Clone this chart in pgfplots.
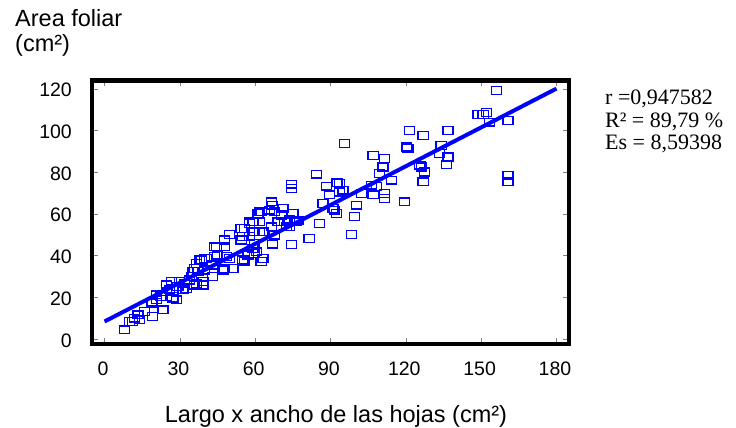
\documentclass[border=0pt]{standalone}
\usepackage{fontspec}
\usepackage{pgfplots}
\usepackage{pgfplotstable}
\pgfplotsset{compat=1.18}
\setmainfont{Liberation Sans}
\newfontfamily\statfont{Liberation Serif}

% largo x ancho (cm2) vs area foliar (cm2)
\pgfplotstableread{
x y
8.0 4.3
9.9 8.3
11.2 8.3
12.0 9.9
13.3 11.5
14.0 9.1
15.9 13.1
19.2 10.7
18.6 17.1
19.2 17.8
20.6 18.7
20.6 21.1
22.5 20.3
23.3 13.9
24.6 20.3
24.6 22.7
24.6 25.8
26.6 27.4
27.2 19.5
25.9 23.5
27.2 24.2
28.6 18.7
29.2 25.0
29.9 27.4
31.8 26.6
31.2 23.5
32.5 24.2
33.9 28.2
34.6 29.8
35.2 32.2
35.9 25.8
36.6 26.6
35.9 33.8
36.6 36.2
37.2 32.2
37.9 37.8
38.5 37.8
39.2 25.8
39.2 27.4
39.8 33.0
39.8 38.6
40.5 38.6
43.1 29.8
43.1 35.4
43.8 39.4
43.8 44.1
44.5 44.1
45.0 40.2
47.2 33.0
47.8 33.8
47.8 44.1
47.8 47.4
48.5 39.4
49.8 38.6
49.8 50.0
51.1 33.8
54.4 47.4
54.4 52.9
55.1 37.8
55.1 49.0
55.7 37.0
55.7 52.9
57.2 40.2
57.8 49.0
57.8 55.4
57.8 56.1
59.1 43.4
59.1 51.3
59.1 56.1
59.8 41.0
59.8 45.8
59.8 51.3
60.5 41.7
61.1 60.2
61.8 51.3
61.8 56.1
61.8 60.9
62.4 37.0
62.4 60.9
63.1 38.6
63.1 51.3
65.7 61.7
66.4 53.7
66.4 65.7
67.0 64.1
67.0 45.4
67.8 49.8
67.8 60.9
69.1 56.1
70.4 59.4
71.1 62.5
71.7 56.1
72.4 53.7
73.7 53.7
73.7 57.0
74.4 45.2
74.4 72.1
74.4 74.2
75.0 60.1
76.3 56.1
77.0 56.9
81.5 48.2
84.4 79.0
85.7 55.4
87.0 64.9
88.3 73.2
89.6 69.0
91.0 62.5
91.7 61.7
92.4 60.1
92.6 74.8
93.6 70.4
93.6 74.5
95.0 71.3
95.6 93.7
98.3 50.1
99.6 58.6
100.3 64.1
102.3 69.7
106.3 73.7
107.0 88.0
107.0 69.0
108.3 73.0
109.6 79.2
110.9 82.4
111.5 86.5
111.5 69.7
111.5 67.4
114.3 76.1
119.5 65.7
120.2 92.0
120.8 91.2
121.5 100.0
125.6 83.3
126.2 82.4
126.9 97.6
126.9 75.3
127.5 80.0
133.5 88.8
134.1 92.8
136.2 83.6
136.8 87.2
136.8 100.0
148.8 107.6
150.8 107.6
152.1 108.6
153.4 103.9
156.1 119.2
160.7 104.7
160.7 78.4
160.7 75.3
}\hojas

\begin{document}
\begin{tikzpicture}
\path[use as bounding box] (-92pt,-84pt) rectangle (644pt,344pt);
\begin{axis}[
    name=main,
    scale only axis,
    width=477pt,
    height=263.5pt,
    xmin=-5, xmax=185,
    ymin=-2.5, ymax=123.9,
    xtick={0,30,...,180},
    ytick={0,20,...,120},
    axis line style={black, line width=4.5pt},
    major tick length=6pt,
    /pgf/number format/assume math mode=true,
    ticklabel style={font=\fontsize{19.5}{21}\selectfont},
    xticklabel style={anchor=base, yshift=-31pt, xshift=-1.5pt},
    yticklabel style={anchor=east, inner sep=0pt, xshift=-20pt, yshift=-1.5pt},
    xlabel={Largo x ancho de las hojas (cm²)},
    xlabel style={font=\fontsize{23.5}{26}\selectfont,
        at={(axis description cs:0.5,0)}, anchor=base, yshift=-78pt, xshift=5.5pt},
]
\addplot[only marks, color=blue, mark=square, mark size=3.9pt,
    mark options={draw=blue, fill=none, xscale=1.3, line width=1.3pt}] table[x=x, y=y] {\hojas};
\addplot[blue, line width=4pt] coordinates {(0,8.3) (180,120)};
\end{axis}
\draw[black, line width=4.5pt] (main.south west) rectangle (main.north east);
\begin{scope}[font=\fontsize{23.5}{26}\selectfont]
\node[anchor=base west, inner sep=0pt] at (-77pt,317pt) {Area foliar};
\node[anchor=base west, inner sep=0pt] at (-77pt,292pt) {(cm²)};
\end{scope}
\begin{scope}[font=\statfont\fontsize{22}{23}\selectfont]
\node[anchor=base west, inner sep=0pt] at (513pt,239pt) {r =0,947582};
\node[anchor=base west, inner sep=0pt] at (513pt,216pt) {R² = 89,79 \%};
\node[anchor=base west, inner sep=0pt] at (513pt,194pt) {Es = 8,59398};
\end{scope}
\end{tikzpicture}
\end{document}
